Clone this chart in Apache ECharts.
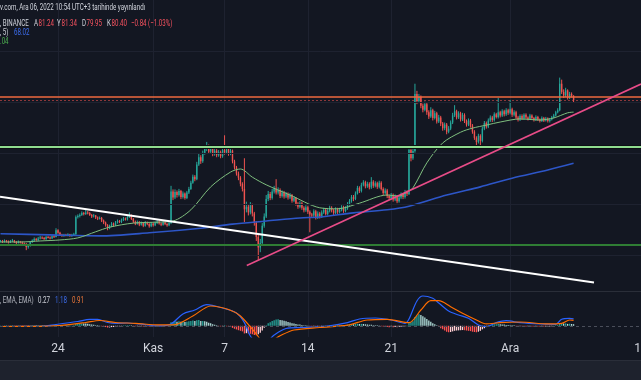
<!DOCTYPE html>
<html><head><meta charset="utf-8">
<script src="https://cdn.jsdelivr.net/npm/echarts@6/dist/echarts.min.js"></script>
<style>html,body{margin:0;padding:0;background:#131722;}#c{width:641px;height:380px;}</style>
</head><body><div id="c"></div>
<script>
// 4h bars, index 0 = Oct 19 04:00 (UTC+3)
const firstOpen = 52.7;
const closes = [
52.8,52.6,52.9,52.7,52.5,52.8,52.9,52.6,52.4,52.7,
52.5,52.3,52.2,51.6,51.9,52.6,52.9,53.2,53.0,53.3,
53.5,53.4,53.2,53.6,53.5,53.3,53.7,53.6,54.9,54.4,
54.0,53.8,54.0,53.9,54.1,53.8,54.0,54.1,57.5,57.7,
57.9,58.3,58.1,58.4,58.3,57.9,57.6,57.8,57.4,57.2,
57.3,56.8,56.4,55.9,55.3,55.7,56.2,55.9,56.4,56.7,
56.5,56.9,57.2,57.0,57.5,57.8,57.1,56.6,56.2,56.5,
56.0,56.3,55.8,56.4,56.1,55.7,56.2,55.9,56.3,56.6,
56.2,56.0,56.4,56.1,55.9,56.3,62.5,61.3,62.4,61.8,
62.6,61.4,62.1,61.2,62.3,63.0,64.2,65.4,64.9,67.8,
69.2,68.4,70.0,70.8,71.4,70.3,70.9,69.8,70.5,69.6,
70.2,69.4,70.6,70.1,70.8,69.9,70.5,68.4,67.2,66.0,
65.2,64.0,63.0,59.0,59.5,58.4,59.8,58.2,56.4,53.6,
51.5,52.4,55.8,57.6,61.0,62.0,61.2,62.5,63.1,62.3,
62.8,61.6,62.3,61.5,62.0,61.3,61.8,60.7,61.2,60.1,
59.5,60.2,59.3,58.8,59.4,58.5,58.0,57.8,58.6,57.4,
58.2,57.6,58.4,58.9,58.1,58.7,59.3,58.8,58.3,59.0,
58.5,58.9,59.4,58.7,59.2,60.0,60.6,61.4,61.0,62.1,
63.2,62.6,63.8,64.3,63.5,64.0,63.3,64.4,63.6,64.1,
63.4,64.2,63.0,62.2,62.7,61.6,61.2,61.8,60.9,61.5,
60.6,61.3,61.9,61.4,62.4,62.0,70.6,69.0,70.4,81.6,
80.2,81.0,79.3,78.5,79.6,78.0,77.2,78.4,76.9,77.8,
76.2,77.0,75.8,74.9,75.6,74.2,74.8,76.0,77.4,78.2,
77.0,77.8,76.6,77.5,76.3,75.6,76.4,75.4,74.2,73.0,
72.2,73.4,72.4,74.8,75.9,75.2,76.4,77.0,76.5,77.6,
77.1,78.0,77.4,78.2,77.6,78.4,77.9,78.6,77.5,78.0,
77.0,76.6,77.3,76.8,77.5,77.0,76.7,77.4,76.9,76.5,
77.1,76.6,76.3,76.9,76.4,76.8,76.3,76.6,77.0,77.4,
78.0,78.4,83.6,82.0,81.3,82.3,80.9,81.6,81.24,80.40];
const highs = [
53.0,53.0,53.1,53.0,52.9,53.0,53.2,53.0,52.8,52.9,
52.8,52.7,52.5,52.4,52.2,52.8,53.1,53.5,53.4,53.6,
53.8,53.7,53.6,53.8,53.8,53.7,53.9,53.9,55.3,55.1,
54.6,54.2,54.2,54.2,54.3,54.2,54.2,54.4,57.8,58.0,
58.2,58.6,58.5,58.9,58.7,58.5,58.1,58.1,57.9,57.6,
57.6,57.5,57.0,56.6,56.1,56.0,56.5,56.4,56.7,57.0,
56.9,57.2,57.5,57.4,57.8,58.4,58.0,57.3,56.8,56.8,
56.7,56.6,56.5,56.7,56.6,56.3,56.5,56.4,56.6,56.9,
56.8,56.4,56.7,56.6,56.3,56.6,63.6,62.9,62.9,62.7,
63.0,62.8,62.5,62.3,62.6,63.4,64.6,65.8,65.7,68.3,
69.9,69.6,70.5,71.3,72.2,71.7,71.4,71.2,70.9,70.8,
70.6,70.5,71.0,73.5,71.4,71.1,70.9,70.7,68.7,67.5,
66.4,65.5,64.3,69.0,60.5,59.9,60.4,60.1,58.5,56.7,
54.0,53.2,56.3,58.2,61.8,62.6,62.4,63.0,63.6,64.9,
63.3,63.1,62.7,62.6,62.4,62.3,62.2,62.0,61.6,61.4,
60.4,60.6,60.5,59.6,59.8,59.7,58.8,58.3,59.0,58.9,
58.6,58.5,58.8,59.3,59.2,59.1,59.7,59.6,59.1,59.4,
59.3,59.3,59.8,59.7,59.6,60.4,61.0,61.8,61.8,62.5,
63.6,63.5,64.2,64.7,64.6,64.4,64.3,65.3,64.7,64.5,
64.4,64.6,64.5,63.3,63.1,63.0,61.9,62.2,62.1,61.9,
61.8,61.7,62.3,62.2,62.8,62.7,71.2,71.0,71.0,83.6,
82.2,81.6,81.3,79.7,80.1,79.9,78.4,79.0,78.7,78.3,
78.1,77.5,77.3,76.1,76.0,75.9,75.3,76.4,77.9,79.4,
78.5,78.2,78.1,77.9,77.8,76.6,76.8,76.7,75.7,74.5,
73.3,73.8,73.7,75.2,76.3,76.2,76.8,77.4,77.3,78.0,
77.9,80.8,78.3,78.6,78.5,78.8,78.7,80.4,78.9,78.4,
78.3,77.3,77.6,77.6,77.8,77.8,77.2,77.7,77.6,77.1,
77.4,77.3,76.8,77.2,77.1,77.1,77.0,76.9,77.3,77.7,
78.3,78.8,84.8,84.4,82.5,82.8,82.5,82.0,81.9,81.34];
const lows = [
52.5,52.4,52.5,52.5,52.3,52.4,52.6,52.4,52.2,52.3,
52.3,52.1,52.0,51.0,51.3,51.7,52.4,52.7,52.8,52.8,
53.1,53.2,53.0,53.0,53.3,53.1,53.2,53.4,53.5,54.2,
53.8,53.6,53.6,53.7,53.7,53.6,53.6,53.8,54.0,57.2,
57.4,57.7,57.8,57.9,58.0,57.7,57.3,57.4,57.1,56.9,
57.0,56.5,56.1,55.6,54.9,55.1,55.5,55.6,55.7,56.2,
56.3,56.3,56.7,56.8,56.8,57.3,56.9,56.3,55.9,56.0,
55.7,55.8,55.5,55.6,55.9,55.4,55.5,55.6,55.7,56.1,
56.0,55.7,55.8,55.9,55.6,55.7,56.1,60.8,61.0,61.3,
61.5,61.0,61.1,60.9,61.0,62.0,62.8,64.0,64.5,64.7,
67.5,67.9,68.1,69.7,70.4,69.9,69.9,69.4,69.5,69.2,
69.3,69.0,69.1,69.7,69.8,69.5,69.6,68.0,66.8,65.6,
64.7,63.5,62.5,56.5,58.4,57.8,58.0,57.6,55.8,52.8,
49.0,50.6,52.0,55.4,57.3,60.6,60.8,60.9,62.1,61.9,
61.9,61.2,61.3,61.1,61.2,60.9,61.0,60.3,60.4,59.7,
59.1,59.2,58.9,58.4,58.5,58.1,54.5,57.3,57.5,57.0,
57.1,57.2,57.3,58.1,57.8,57.8,58.4,58.4,57.9,58.0,
58.1,58.2,58.6,58.3,58.4,58.9,59.7,60.3,60.6,60.8,
61.9,62.2,62.3,63.5,63.1,63.2,62.9,63.0,63.2,63.3,
63.0,63.1,62.7,61.8,61.9,61.2,60.8,60.9,60.5,60.6,
60.2,60.3,61.0,61.0,61.1,61.6,61.8,68.4,68.7,70.1,
79.6,79.8,78.8,78.0,78.2,77.5,76.7,76.9,76.4,76.6,
75.8,75.9,75.3,74.4,74.5,73.7,73.9,74.5,75.7,77.1,
76.6,76.7,76.2,76.3,75.9,75.2,75.3,75.0,73.8,72.6,
71.4,71.9,71.3,72.1,74.5,74.8,74.9,76.1,76.1,76.2,
76.8,76.8,77.0,77.1,77.2,77.3,77.5,77.6,77.1,77.2,
76.7,76.2,76.3,76.5,76.5,76.7,76.4,76.5,76.6,76.2,
76.3,76.3,76.0,76.1,76.1,76.2,76.0,76.0,76.4,76.8,
77.2,77.8,78.2,81.6,80.8,81.0,80.5,80.6,80.9,79.95];

const maGreenIdx = [0,10,20,30,39,48,55,67,80,87,96,106,116,121,127,134,146,161,170,181,195,201,205,208,215,223,232,238,245,252,262,272,279,286,289];
const maGreenVal = [52.6,52.6,52.8,53.0,53.4,54.6,55.5,56.3,56.5,56.7,58.9,63.4,66.3,66.9,65.3,63.8,61.8,59.3,59.1,60.2,61.8,61.6,62.4,63.2,68.1,72.0,74.1,74.9,75.5,76.1,76.7,76.5,76.9,77.9,78.04];
const maBlueIdx = [0,25,50,75,101,117,134,151,161,178,195,206,225,242,258,276,289];
const maBlueVal = [54.2,54.0,53.8,54.4,55.3,56.1,56.7,57.3,57.5,58.3,58.9,59.6,61.8,63.4,65.1,66.7,68.02];

const macdIdx = [0,20,28,39,45,49,54,59,64,70,80,86,92,98,104,112,119,123,126,130,133,138,144,152,165,175,181,189,197,204,206,210,213,218,221,226,231,236,241,245,250,255,262,272,280,283,287,289];
const macdVal = [-0.12,-0.1,0.22,0.73,1.1,1.1,0.56,0.42,0.47,0.31,-0.03,0.31,2.0,2.68,3.6,3.02,2.17,0.54,-1.73,-3.0,-3.0,-1.56,-0.46,-0.29,-0.03,0.54,1.15,1.32,0.98,0.42,1.15,4.21,5.05,4.66,3.87,2.51,1.83,1.27,0.14,-0.15,0.53,0.86,0.53,0.31,0.25,1.1,1.27,1.18];
const signalIdx = [0,20,30,43,50,58,68,80,87,97,106,115,121,129,132,136,141,148,161,175,185,195,206,212,217,221,227,233,240,245,252,262,276,283,287,289];
const signalVal = [-0.12,-0.1,0.05,0.56,0.9,0.56,0.42,0.14,0.14,1.66,3.36,2.76,1.66,-1.39,-2.5,-2.6,-1.68,-0.71,-0.29,0.1,0.98,1.1,0.54,2.68,4.26,4.26,3.24,2.12,0.98,0.31,0.53,0.64,0.31,0.42,0.98,0.91];
const hist = [
0.02,-0.02,0.03,0.01,-0.03,0.02,0.04,-0.01,-0.04,0.01,
-0.02,-0.05,-0.07,-0.12,-0.1,0.02,0.06,0.08,0.07,0.09,
0.1,0.08,0.06,0.09,0.07,0.05,0.08,0.07,0.2,0.15,
0.08,0.04,0.05,0.03,0.04,0.01,0.02,0.03,0.3,0.35,
0.38,0.4,0.38,0.37,0.33,0.28,0.22,0.18,0.1,0.04,
0.0,-0.08,-0.15,-0.22,-0.3,-0.28,-0.22,-0.2,-0.14,-0.08,
-0.06,-0.02,0.03,0.04,0.08,0.1,0.04,-0.03,-0.08,-0.07,
-0.1,-0.08,-0.12,-0.06,-0.08,-0.12,-0.07,-0.09,-0.05,0.0,
-0.03,-0.05,0.0,-0.02,-0.05,0.0,0.6,0.65,0.75,0.7,
0.75,0.7,0.72,0.65,0.7,0.75,0.82,0.9,0.8,0.95,
0.98,0.8,0.82,0.78,0.7,0.5,0.42,0.25,0.18,0.05,
-0.02,-0.1,-0.05,0.05,-0.03,-0.15,-0.2,-0.35,-0.5,-0.62,
-0.75,-0.85,-0.95,-1.3,-1.25,-1.3,-1.35,-1.45,-1.55,-1.6,
-1.45,-1.2,-0.8,-0.35,0.1,0.45,0.6,0.8,0.95,1.05,
1.1,1.0,0.95,0.85,0.75,0.65,0.55,0.45,0.4,0.32,
0.22,0.2,0.12,0.08,0.07,0.02,-0.05,-0.08,-0.04,-0.08,
-0.06,-0.1,-0.05,0.0,-0.04,0.02,0.06,0.04,0.0,0.05,
0.05,0.08,0.12,0.1,0.13,0.18,0.22,0.28,0.26,0.3,
0.35,0.3,0.32,0.3,0.25,0.22,0.18,0.16,0.1,0.08,
0.04,0.02,-0.05,-0.12,-0.14,-0.2,-0.25,-0.22,-0.26,-0.22,
-0.25,-0.2,-0.15,-0.12,-0.05,0.0,0.5,0.6,0.75,1.5,
1.75,1.95,1.85,1.6,1.4,1.15,0.9,0.7,0.45,0.25,
0.05,-0.2,-0.4,-0.6,-0.8,-1.0,-1.1,-1.05,-0.95,-0.85,
-0.8,-0.78,-0.75,-0.72,-0.75,-0.8,-0.85,-0.9,-1.0,-1.05,
-1.1,-1.0,-0.85,-0.6,-0.4,-0.2,-0.05,0.1,0.2,0.25,
0.28,0.3,0.27,0.22,0.2,0.15,0.12,0.1,0.05,0.03,
-0.02,-0.05,-0.04,-0.06,-0.08,-0.1,-0.08,-0.07,-0.1,-0.12,
-0.1,-0.12,-0.14,-0.1,-0.12,-0.1,-0.12,-0.1,-0.05,0.0,
0.1,0.15,0.4,0.45,0.38,0.4,0.32,0.35,0.3,0.27];

// drawings
const resistanceLevel = 81.0;
const upperSupportLevel = 71.3;
const lowerSupportLevel = 52.1;
const lastPrice = 80.40;
const whiteTrend = [[-0.25, 61.47], [299.3, 44.66]];
const pinkTrend = [[124.2, 47.99], [323.0, 83.54]];
const priceGrid = [50, 60, 70, 80, 90];

const tickValues = [29, 77, 113, 155, 197, 257, 323];
const tickLabels = ['24', 'Kas', '7', '14', '21', 'Ara', '12'];

// header / legend texts
const publishedText = 'v.com, Ara 06, 2022 10:54 UTC+3 tarihinde yayınlandı';
const symbolText = ', BINANCE';
const ohlcKeys = ['A', 'Y', 'D', 'K'];
const ohlcVals = ['81.24', '81.34', '79.95', '80.40'];
const changeText = '−0.84 (−1.03%)';
const maBlueLegend = [', 5)', '68.02'];
const maGreenLegend = '.04';
const macdLegend = [', EMA, EMA)', '0.27', '1.18', '0.91'];

const X_MIN = -0.25, X_MAX = 323.0;
const UP = '#26a69a', DOWN = '#ef5350';

const candleData = closes.map((c, i) => [i, i ? closes[i - 1] : firstOpen, c, lows[i], highs[i]]);
const pairs = (xs, ys) => xs.map((x, k) => [x, ys[k]]);
const histData = hist.map((v, i) => [i, v, i ? hist[i - 1] : 0]);

function renderCandle(params, api) {
  const x = api.value(0), o = api.value(1), c = api.value(2), l = api.value(3), h = api.value(4);
  const pO = api.coord([x, o]), pC = api.coord([x, c]), pL = api.coord([x, l]), pH = api.coord([x, h]);
  const color = c >= o ? UP : DOWN;
  const w = 1.4;
  const top = Math.min(pO[1], pC[1]);
  const bh = Math.max(Math.abs(pO[1] - pC[1]), 1);
  return {type: 'group', children: [
    {type: 'line', shape: {x1: pO[0], y1: pH[1], x2: pO[0], y2: pL[1]}, style: {stroke: color, lineWidth: 1}},
    {type: 'rect', shape: {x: pO[0] - w / 2, y: top, width: w, height: bh}, style: {fill: color}}
  ]};
}
function renderHist(params, api) {
  const x = api.value(0), v = api.value(1), prev = api.value(2);
  const p0 = api.coord([x, 0]), p1 = api.coord([x, v]);
  let color;
  if (v >= 0) color = v >= prev ? '#26a69a' : '#b2dfdb';
  else color = v < prev ? '#ff5252' : '#ffcdd2';
  const w = 1.3;
  return {type: 'rect', shape: {x: p0[0] - w / 2, y: Math.min(p0[1], p1[1]), width: w, height: Math.max(Math.abs(p1[1] - p0[1]), 0.5)}, style: {fill: color}};
}
const hLine = (val, color, width, type) => ({yAxis: val, lineStyle: {color: color, width: width, type: type || 'solid'}});

const SX = 0.65, FS = 9.5;
const txt = (text, x, y, color) => ({type: 'text', x: x, y: y, scaleX: SX, z: 100,
  style: {text: text, fill: color, fontSize: FS, fontFamily: 'Roboto', verticalAlign: 'middle'}});

const RED_T = '#f7525f', GREY_T = '#d1d4dc', BLUE_T = '#3d6ef0';
const ohlcX = [34, 57, 82, 107];
const header = [
  txt(publishedText, 0, 8, GREY_T),
  txt(symbolText, 0, 24, GREY_T),
  ...ohlcKeys.map((k, j) => txt(k, ohlcX[j], 24, GREY_T)),
  ...ohlcVals.map((v, j) => txt(v, ohlcX[j] + 4.5, 24, RED_T)),
  txt(changeText, 131, 24, RED_T),
  txt(maBlueLegend[0], 0, 33, GREY_T),
  txt(maBlueLegend[1], 14, 33, BLUE_T),
  txt(maGreenLegend, 0, 42, '#4caf50'),
  txt(macdLegend[0], 0, 301, '#b2b5be'),
  txt(macdLegend[1], 38, 301, GREY_T),
  txt(macdLegend[2], 55, 301, BLUE_T),
  txt(macdLegend[3], 72, 301, '#f07a3a')
];

const LAST_TICK = tickValues[tickValues.length - 1];
const chart = echarts.init(document.getElementById('c'), null, {renderer: 'canvas', width: 641, height: 380});
const gridSplit = {show: true, lineStyle: {color: '#1e2230', width: 1}};
chart.setOption({
  backgroundColor: '#131722',
  animation: false,
  grid: [{left: 0, right: 0, top: 0, height: 291}, {left: 0, right: 0, top: 291, height: 46}],
  xAxis: [
    {type: 'value', gridIndex: 0, min: X_MIN, max: X_MAX, axisLine: {show: false},
     axisTick: {show: false, customValues: tickValues}, axisLabel: {show: false, customValues: tickValues}, splitLine: gridSplit},
    {type: 'value', gridIndex: 1, min: X_MIN, max: X_MAX, axisLine: {show: false},
     axisTick: {show: false, customValues: tickValues},
     axisLabel: {show: true, customValues: tickValues.slice(0, -1), margin: 6, color: '#d1d4dc', fontSize: 12, fontFamily: 'Roboto',
       formatter: v => tickLabels[tickValues.indexOf(Math.round(v))] || ''},
     splitLine: gridSplit}
  ],
  yAxis: [
    {type: 'value', gridIndex: 0, min: 43, max: 100, show: false},
    {type: 'value', gridIndex: 1, min: -1.9, max: 5.9, show: false}
  ],
  series: [
    {type: 'line', xAxisIndex: 0, yAxisIndex: 0, data: [], silent: true, z: 0,
     markLine: {silent: true, symbol: ['none', 'none'], label: {show: false},
       data: priceGrid.map(v => hLine(v, '#1e2230', 1))}},
    {type: 'custom', name: 'candles', xAxisIndex: 0, yAxisIndex: 0, renderItem: renderCandle, data: candleData,
     encode: {x: 0, y: [1, 2, 3, 4]}, z: 2, clip: true},
    {type: 'line', name: 'MA blue', data: pairs(maBlueIdx, maBlueVal), smooth: 0.3, showSymbol: false,
     lineStyle: {color: '#2d56c8', width: 1.6}, z: 3},
    {type: 'line', name: 'MA green', data: pairs(maGreenIdx, maGreenVal), smooth: 0.3, showSymbol: false,
     lineStyle: {color: '#7fbf7f', width: 1}, z: 3},
    {type: 'line', name: 'levels', data: [], silent: true, z: 4,
     markLine: {silent: true, symbol: ['none', 'none'], label: {show: false},
       data: [
         hLine(resistanceLevel, '#ef6a3f', 1.5),
         hLine(lastPrice, 'rgba(239,83,80,0.55)', 1, [2, 2]),
         hLine(upperSupportLevel, '#0c0f14', 4),
         hLine(upperSupportLevel, '#8fdc8f', 2),
         hLine(lowerSupportLevel, '#2f7d34', 2)
       ]}},
    {type: 'line', name: 'white trend', data: whiteTrend, showSymbol: false, lineStyle: {color: '#ffffff', width: 2}, z: 5},
    {type: 'line', name: 'pink trend', data: pinkTrend, showSymbol: false, lineStyle: {color: '#e84c88', width: 1.6}, z: 5},
    {type: 'custom', name: 'hist', xAxisIndex: 1, yAxisIndex: 1, renderItem: renderHist, data: histData,
     encode: {x: 0, y: 1}, z: 2},
    {type: 'line', name: 'zero', xAxisIndex: 1, yAxisIndex: 1, data: [], silent: true, z: 1,
     markLine: {silent: true, symbol: ['none', 'none'], label: {show: false},
       data: [hLine(0, '#4a4e5a', 1, [3, 3])]}},
    {type: 'line', name: 'MACD', xAxisIndex: 1, yAxisIndex: 1, data: pairs(macdIdx, macdVal), smooth: 0.3,
     showSymbol: false, lineStyle: {color: '#2962ff', width: 1.2}, z: 3},
    {type: 'line', name: 'Signal', xAxisIndex: 1, yAxisIndex: 1, data: pairs(signalIdx, signalVal), smooth: 0.3,
     showSymbol: false, lineStyle: {color: '#ff6d00', width: 1.2}, z: 3}
  ]
});
// last tick label sits on the right edge and is cut by the canvas, as in the reference
const lastPx = chart.convertToPixel({xAxisIndex: 1}, LAST_TICK);
chart.setOption({graphic: [
  {type: 'rect', id: 'band', shape: {x: 0, y: 360, width: 641, height: 20}, style: {fill: '#1e222d'}, z: 50},
  {type: 'line', id: 'bandLine', shape: {x1: 0, y1: 360.5, x2: 641, y2: 360.5}, style: {stroke: '#2a2e39', lineWidth: 1}, z: 51},
  {type: 'line', id: 'sep', shape: {x1: 0, y1: 291.5, x2: 641, y2: 291.5}, style: {stroke: '#2a2e39', lineWidth: 1}, z: 51},
  ...header,
  {type: 'text', id: 'lastTick', x: lastPx, y: 337 + 6, z: 100,
   style: {text: tickLabels[tickLabels.length - 1], fill: '#d1d4dc', fontSize: 12, fontFamily: 'Roboto', align: 'center', verticalAlign: 'top'}}
]});
</script></body></html>
